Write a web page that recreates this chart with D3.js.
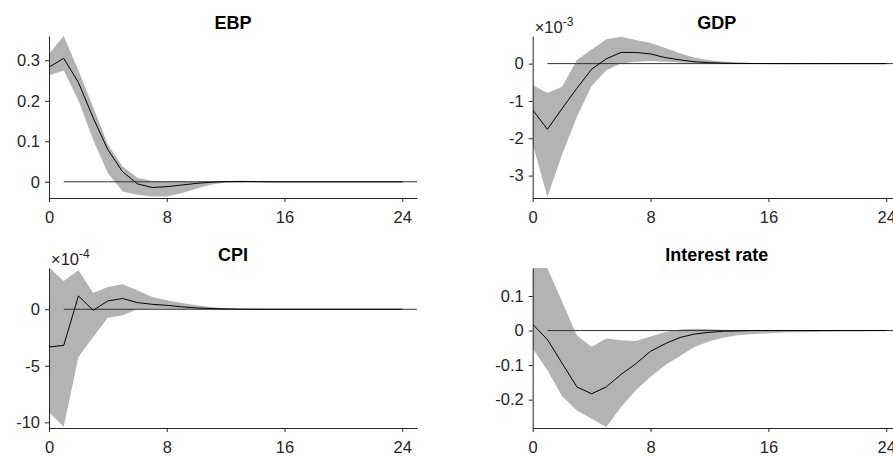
<!DOCTYPE html>
<html>
<head>
<meta charset="utf-8">
<script src="https://cdn.jsdelivr.net/npm/d3@7"></script>
<style>
  body { margin: 0; background: #fff; }
  svg { display: block; font-family: "Liberation Sans", Arial, Helvetica, sans-serif; }
</style>
</head>
<body>
<svg id="chart" width="893" height="457"></svg>
<script>
// Impulse responses, horizon 0..24
const periods = d3.range(25);
const zeroSpan = [1, 25];
const xTicks = [0, 8, 16, 24];

const titles = ["EBP", "GDP", "CPI", "Interest rate"];
const exponents = [null, -3, -4, null];

// EBP
const ebpMid = [0.283, 0.305, 0.245, 0.158, 0.079, 0.025, -0.005, -0.014, -0.012, -0.008, -0.004, -0.001, 0.0005, 0.001, 0.0005, 0, 0, 0, 0, 0, 0, 0, 0, 0, 0];
const ebpUpper = [0.316, 0.36, 0.275, 0.185, 0.092, 0.038, 0.01, 0.002, 0.001, 0.001, 0.001, 0.001, 0.001, 0.001, 0.0005, 0, 0, 0, 0, 0, 0, 0, 0, 0, 0];
const ebpLower = [0.263, 0.275, 0.201, 0.103, 0.022, -0.024, -0.032, -0.036, -0.036, -0.028, -0.017, -0.007, -0.002, -0.001, 0, 0, 0, 0, 0, 0, 0, 0, 0, 0, 0];
const ebpTicks = [0, 0.1, 0.2, 0.3];

// GDP (x 10^-3)
const gdpMid = [-1.24, -1.76, -1.2, -0.66, -0.15, 0.13, 0.3, 0.3, 0.26, 0.16, 0.1, 0.05, 0.025, 0.012, 0.006, 0.003, 0.001, 0, 0, 0, 0, 0, 0, 0, 0];
const gdpUpper = [-0.57, -0.79, -0.62, 0.1, 0.38, 0.65, 0.72, 0.63, 0.55, 0.42, 0.28, 0.16, 0.09, 0.05, 0.03, 0.015, 0.008, 0.004, 0.002, 0.001, 0, 0, 0, 0, 0];
const gdpLower = [-2.15, -3.57, -2.43, -1.42, -0.6, -0.18, 0.0, 0.05, 0.07, 0.05, 0.03, 0.015, 0.005, 0, 0, 0, 0, 0, 0, 0, 0, 0, 0, 0, 0];
const gdpTicks = [-3, -2, -1, 0];

// CPI (x 10^-4)
const cpiMid = [-3.34, -3.19, 1.18, -0.09, 0.74, 0.95, 0.59, 0.44, 0.35, 0.22, 0.12, 0.06, 0.03, 0.01, 0.005, 0, 0, 0, 0, 0, 0, 0, 0, 0, 0];
const cpiUpper = [3.7, 2.51, 3.46, 1.45, 1.98, 2.22, 1.69, 1.09, 0.8, 0.55, 0.35, 0.2, 0.1, 0.05, 0.02, 0.01, 0, 0, 0, 0, 0, 0, 0, 0, 0];
const cpiLower = [-9.1, -10.4, -4.23, -2.46, -0.74, -0.53, 0.0, 0.05, 0.05, 0.03, 0.02, 0.01, 0, 0, 0, 0, 0, 0, 0, 0, 0, 0, 0, 0, 0];
const cpiTicks = [-10, -5, 0];

// Interest rate
const rateMid = [0.018, -0.026, -0.095, -0.163, -0.183, -0.163, -0.127, -0.096, -0.06, -0.038, -0.02, -0.01, -0.005, -0.002, -0.001, 0, 0, 0, 0, 0, 0, 0, 0, 0, 0];
const rateUpper = [0.26, 0.18, 0.083, -0.014, -0.047, -0.023, -0.028, -0.03, -0.017, -0.004, 0.003, 0.005, 0.004, 0.002, 0.001, 0.0005, 0, 0, 0, 0, 0, 0, 0, 0, 0];
const rateLower = [-0.052, -0.115, -0.19, -0.231, -0.255, -0.279, -0.221, -0.173, -0.134, -0.1, -0.074, -0.047, -0.031, -0.02, -0.013, -0.01, -0.008, -0.006, -0.005, -0.004, -0.003, -0.002, -0.002, -0.001, -0.001];
const rateTicks = [-0.2, -0.1, 0, 0.1];

// Panel layout (pixels) and axis limits
const panels = [
  { left: 49, top: 36, width: 368, height: 162, yDomain: [-0.04, 0.36], mid: ebpMid, upper: ebpUpper, lower: ebpLower, ticks: ebpTicks },
  { left: 532.7, top: 36, width: 368.3, height: 162, yDomain: [-3.6, 0.74], mid: gdpMid, upper: gdpUpper, lower: gdpLower, ticks: gdpTicks },
  { left: 49, top: 268, width: 368, height: 160, yDomain: [-10.5, 3.65], mid: cpiMid, upper: cpiUpper, lower: cpiLower, ticks: cpiTicks },
  { left: 532.7, top: 268, width: 368.3, height: 160, yDomain: [-0.282, 0.181], mid: rateMid, upper: rateUpper, lower: rateLower, ticks: rateTicks }
];

const svg = d3.select("#chart");
const axisColor = "#262626";
const fmt = d => String(+d.toFixed(4));

panels.forEach((p, i) => {
  const g = svg.append("g").attr("transform", `translate(${p.left},${p.top})`);

  const x = d3.scaleLinear().domain([0, 25]).range([0, p.width]);
  const y = d3.scaleLinear().domain(p.yDomain).range([p.height, 0]);

  // clip to the axes box, like matlab limits
  const clipId = "clip" + i;
  g.append("clipPath").attr("id", clipId)
    .append("rect").attr("width", p.width).attr("height", p.height);
  const plot = g.append("g").attr("clip-path", `url(#${clipId})`);

  // Confidence band
  const area = d3.area()
    .x(t => x(t))
    .y0(t => y(p.lower[t]))
    .y1(t => y(p.upper[t]));
  plot.append("path")
    .datum(periods)
    .attr("fill", "#b3b3b3")
    .attr("d", area);

  // Zero line
  plot.append("path")
    .datum(zeroSpan)
    .attr("fill", "none")
    .attr("stroke", "#333")
    .attr("stroke-width", 1)
    .attr("d", d3.line().x(t => x(t)).y(() => y(0)));

  // Median response
  plot.append("path")
    .datum(periods)
    .attr("fill", "none")
    .attr("stroke", "#000")
    .attr("stroke-width", 1)
    .attr("d", d3.line().x(t => x(t)).y(t => y(p.mid[t])));

  // Axes
  const xAxis = g.append("g")
    .attr("transform", `translate(0,${p.height})`)
    .call(d3.axisBottom(x).tickValues(xTicks).tickSize(4).tickSizeOuter(0).tickPadding(9));
  const yAxis = g.append("g")
    .call(d3.axisLeft(y).tickValues(p.ticks).tickFormat(fmt).tickSize(4).tickSizeOuter(0).tickPadding(5));

  [xAxis, yAxis].forEach(a => {
    a.attr("font-size", 16.5).attr("font-family", null);
    a.selectAll(".domain, .tick line").attr("stroke", axisColor);
    a.selectAll("text").attr("fill", axisColor);
  });

  // Title
  g.append("text")
    .attr("x", p.width / 2)
    .attr("y", -7)
    .attr("text-anchor", "middle")
    .attr("font-weight", "bold")
    .attr("font-size", 18)
    .attr("fill", "#000")
    .text(titles[i]);

  // Exponent label
  if (exponents[i] !== null) {
    const ex = g.append("text")
      .attr("x", 2)
      .attr("y", -3)
      .attr("font-size", 16.5)
      .attr("fill", axisColor);
    ex.append("tspan").text("\u00d710");
    ex.append("tspan")
      .attr("dy", -7)
      .attr("font-size", 12)
      .text(String(exponents[i]));
  }
});
</script>
</body>
</html>
